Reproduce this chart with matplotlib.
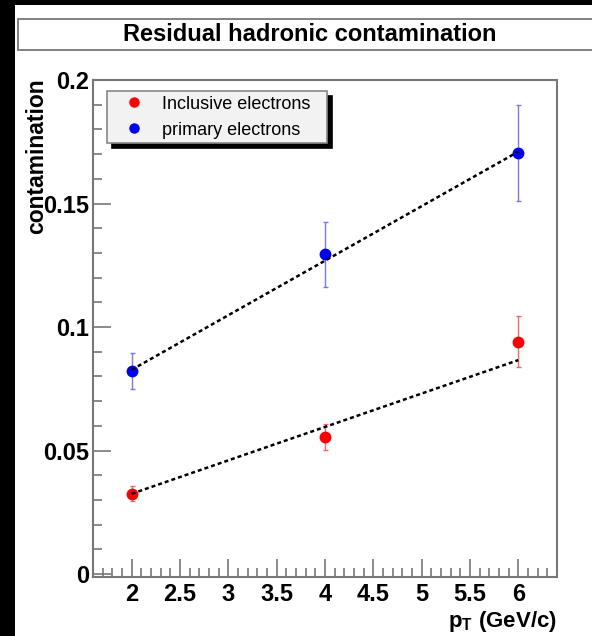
import numpy as np
import matplotlib
matplotlib.use("Agg")
import matplotlib.pyplot as plt
from matplotlib.patches import Rectangle
from matplotlib.lines import Line2D
from matplotlib.ticker import MultipleLocator

plt.rcParams['font.family'] = ['Liberation Sans', 'DejaVu Sans']
plt.rcParams['mathtext.fontset'] = 'custom'
plt.rcParams['mathtext.rm'] = 'Liberation Sans'
plt.rcParams['mathtext.bf'] = 'Liberation Sans:bold'

# measured contamination vs pT
pt = [2, 4, 6]
incl_vals = [0.0325, 0.0556, 0.0941]
incl_errs = [0.0030, 0.0052, 0.0102]
prim_vals = [0.0822, 0.1295, 0.1705]
prim_errs = [0.0073, 0.0132, 0.0195]

# linear fits (values at the ends of the fit range)
fit_x = [2, 6]
incl_fit = [0.0325, 0.0866]
prim_fit = [0.0827, 0.1710]

ytick_vals = [0, 0.05, 0.1, 0.15, 0.2]
ytick_labels = ["0", "0.05", "0.1", "0.15", "0.2"]
xtick_vals = [2, 2.5, 3, 3.5, 4, 4.5, 5, 5.5, 6]
xtick_labels = ["2", "2.5", "3", "3.5", "4", "4.5", "5", "5.5", "6"]
series_names = ["Inclusive electrons", "primary electrons"]

W, H = 592, 636
fig = plt.figure(figsize=(W / 100, H / 100), dpi=100, facecolor='black')

# white canvas and title box (behind the axes)
fig.patches.append(Rectangle((15 / W, 0), 1, 1 - 5 / H, transform=fig.transFigure,
                             facecolor='white', edgecolor='none', zorder=-10))
fig.patches.append(Rectangle((18 / W, 1 - 50 / H), 1, 31 / H, transform=fig.transFigure,
                             facecolor='white', edgecolor='#777777', lw=1.3, zorder=-9))
fig.text(310 / W, 1 - 34.5 / H, "Residual hadronic contamination", ha='center', va='center',
         fontsize=17, fontweight='bold')

ax = fig.add_axes([93 / W, 1 - 577 / H, (557 - 93) / W, (577 - 80) / H])
ax.set_facecolor('white')
ax.set_xlim(1.6, 6.4)
ax.set_ylim(-0.0012, 0.2)

red_err = (1, 0.25, 0.25, 0.8)
blue_err = (0.35, 0.35, 1, 0.8)
ax.errorbar(pt, incl_vals, yerr=incl_errs, fmt='o', color='red', ecolor=red_err,
            elinewidth=1, capsize=1.8, capthick=1, markersize=7.5, zorder=3)
ax.errorbar(pt, prim_vals, yerr=prim_errs, fmt='o', color='blue', ecolor=blue_err,
            elinewidth=1, capsize=1.8, capthick=1, markersize=7.5, zorder=3)
ax.plot(fit_x, incl_fit, color='black', lw=1.8, ls=(0, (1.6, 1.2)), zorder=4)
ax.plot(fit_x, prim_fit, color='black', lw=1.8, ls=(0, (1.6, 1.2)), zorder=4)

ax.set_yticks(ytick_vals)
ax.set_yticklabels(ytick_labels)
ax.set_xticks(xtick_vals)
ax.set_xticklabels(xtick_labels)
ax.xaxis.set_minor_locator(MultipleLocator(0.1))
ax.yaxis.set_minor_locator(MultipleLocator(0.01))
ax.tick_params(which='both', direction='in', colors='#777777', labelcolor='black',
               width=1.2, labelsize=17)
ax.tick_params(which='major', length=13)
ax.tick_params(which='minor', length=6.5)
ax.tick_params(axis='x', pad=4)
ax.tick_params(axis='y', pad=3)
for lab in ax.get_xticklabels() + ax.get_yticklabels():
    lab.set_fontweight('bold')
for s in ax.spines.values():
    s.set_color('#777777')
    s.set_linewidth(1.5)

fig.text(37 / W, 1 - 78 / H, "contamination", rotation=90, ha='center', va='top',
         fontsize=16.5, fontweight='bold')
fig.text(557 / W, 1 - 622 / H, r"$\mathbf{p_{T}}$ (GeV/c)", ha='right', va='center',
         fontsize=16, fontweight='bold')

# legend box spans x 107..327 px, top at y 91 px
handles = [Line2D([], [], ls='none', marker='o', color=c, markersize=6.5)
           for c in ['red', 'blue']]
leg = ax.legend(handles, series_names, loc='upper left', mode='expand',
                bbox_to_anchor=(14 / 464, 1 - 16 / 497, 220 / 464, 0.01),
                fontsize=13, frameon=True, fancybox=False,
                shadow={'color': 'black', 'alpha': 1, 'ox': 3.5, 'oy': -3.5},
                handletextpad=0.3, borderpad=0.25, labelspacing=0.5,
                handlelength=2.5, borderaxespad=0)
leg.get_frame().set_facecolor('#f2f2f2')
leg.get_frame().set_edgecolor('#888888')
leg.get_frame().set_linewidth(1.2)

fig.savefig("out.png", dpi=100, facecolor=fig.get_facecolor())
